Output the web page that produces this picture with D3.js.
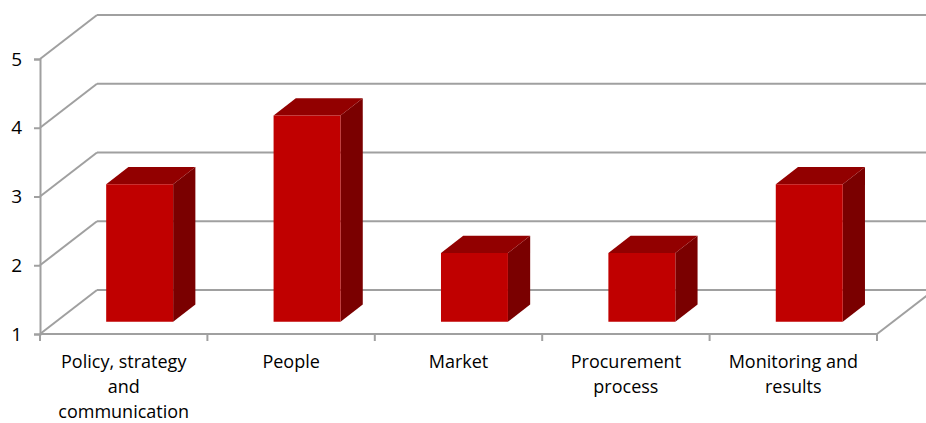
<!DOCTYPE html>
<html>
<head>
<meta charset="utf-8">
<script src="https://cdn.jsdelivr.net/npm/d3@7"></script>
<style>
  body { margin: 0; background: #fff; }
  text { font-family: "Open Sans", "Noto Sans", sans-serif; fill: #000; }
</style>
</head>
<body>
<svg id="chart" width="926" height="423"></svg>
<script>
// data
const categories = [
  ["Policy, strategy", "and", "communication"],
  ["People"],
  ["Market"],
  ["Procurement", "process"],
  ["Monitoring and", "results"]
];
const values = [3, 4, 2, 2, 3];
const yTicks = [1, 2, 3, 4, 5];

const svg = d3.select("#chart");

// front plane of the box
const x = d3.scaleBand().domain(d3.range(categories.length)).range([40, 877]);
const y = d3.scaleLinear().domain([1, 5]).range([334, 59]);

// depth offset for back wall
const DX = 57, DY = 44;
const proj = (px, py, d) => [px + d * DX, py - d * DY];

const grid = "#a0a0a0";

// gridlines on back wall + left wall diagonals
yTicks.forEach(t => {
  const [bx, by] = proj(40, y(t), 1);
  svg.append("line")
    .attr("x1", 40).attr("y1", y(t)).attr("x2", bx).attr("y2", by)
    .attr("stroke", grid).attr("stroke-width", 2);
  svg.append("line")
    .attr("x1", bx).attr("y1", by).attr("x2", proj(877, 0, 1)[0]).attr("y2", by)
    .attr("stroke", grid).attr("stroke-width", 2);
});

// floor right edge
const fr = proj(877, y(1), 1);
svg.append("line")
  .attr("x1", 877).attr("y1", y(1)).attr("x2", fr[0]).attr("y2", fr[1])
  .attr("stroke", grid).attr("stroke-width", 2);

// bars
const d0 = 0.28, d1 = 0.67;
const bw = x.bandwidth() * 0.4;
const bars = svg.append("g");
values.forEach((v, i) => {
  const cx = x(i) + x.bandwidth() / 2;
  const l = cx - bw / 2, r = cx + bw / 2;
  const fl = proj(l, y(1), d0), fr2 = proj(r, y(1), d0);
  const tl = proj(l, y(v), d0), tr = proj(r, y(v), d0);
  const btl = proj(l, y(v), d1), btr = proj(r, y(v), d1), bbr = proj(r, y(1), d1);
  const pts = a => a.map(p => p.join(",")).join(" ");
  // side
  bars.append("polygon").attr("points", pts([fr2, tr, btr, bbr])).attr("fill", "#7a0000");
  // top
  bars.append("polygon").attr("points", pts([tl, tr, btr, btl])).attr("fill", "#920000");
  // front
  bars.append("polygon").attr("points", pts([fl, fr2, tr, tl])).attr("fill", "#c00000");
});

// y axis
const yAxis = svg.append("g").attr("transform", "translate(40,0)")
  .call(d3.axisLeft(y).tickValues(yTicks).tickSize(6).tickFormat(d3.format("d")));
yAxis.select(".domain").attr("stroke", grid).attr("stroke-width", 2);
yAxis.selectAll(".tick line").attr("stroke", grid).attr("stroke-width", 2);
yAxis.selectAll(".tick text").attr("font-size", 19).attr("font-family", "Open Sans, sans-serif")
  .attr("x", -18).attr("fill", "#000");

// x axis (front floor edge)
const xAxis = svg.append("g").attr("transform", `translate(0,${y(1)})`);
xAxis.append("line").attr("x1", 40).attr("x2", 877).attr("stroke", grid).attr("stroke-width", 2);
d3.range(categories.length + 1).forEach(i => {
  const tx = i < categories.length ? x(i) : x.range()[1];
  xAxis.append("line").attr("x1", tx).attr("x2", tx).attr("y1", 0).attr("y2", 7)
    .attr("stroke", grid).attr("stroke-width", 2);
});
categories.forEach((lines, i) => {
  const t = xAxis.append("text")
    .attr("text-anchor", "middle")
    .attr("font-size", 18)
    .attr("transform", `translate(${x(i) + x.bandwidth() / 2},34)`);
  lines.forEach((s, k) => t.append("tspan").attr("x", 0).attr("dy", k ? 25 : 0).text(s));
});
</script>
</body>
</html>
